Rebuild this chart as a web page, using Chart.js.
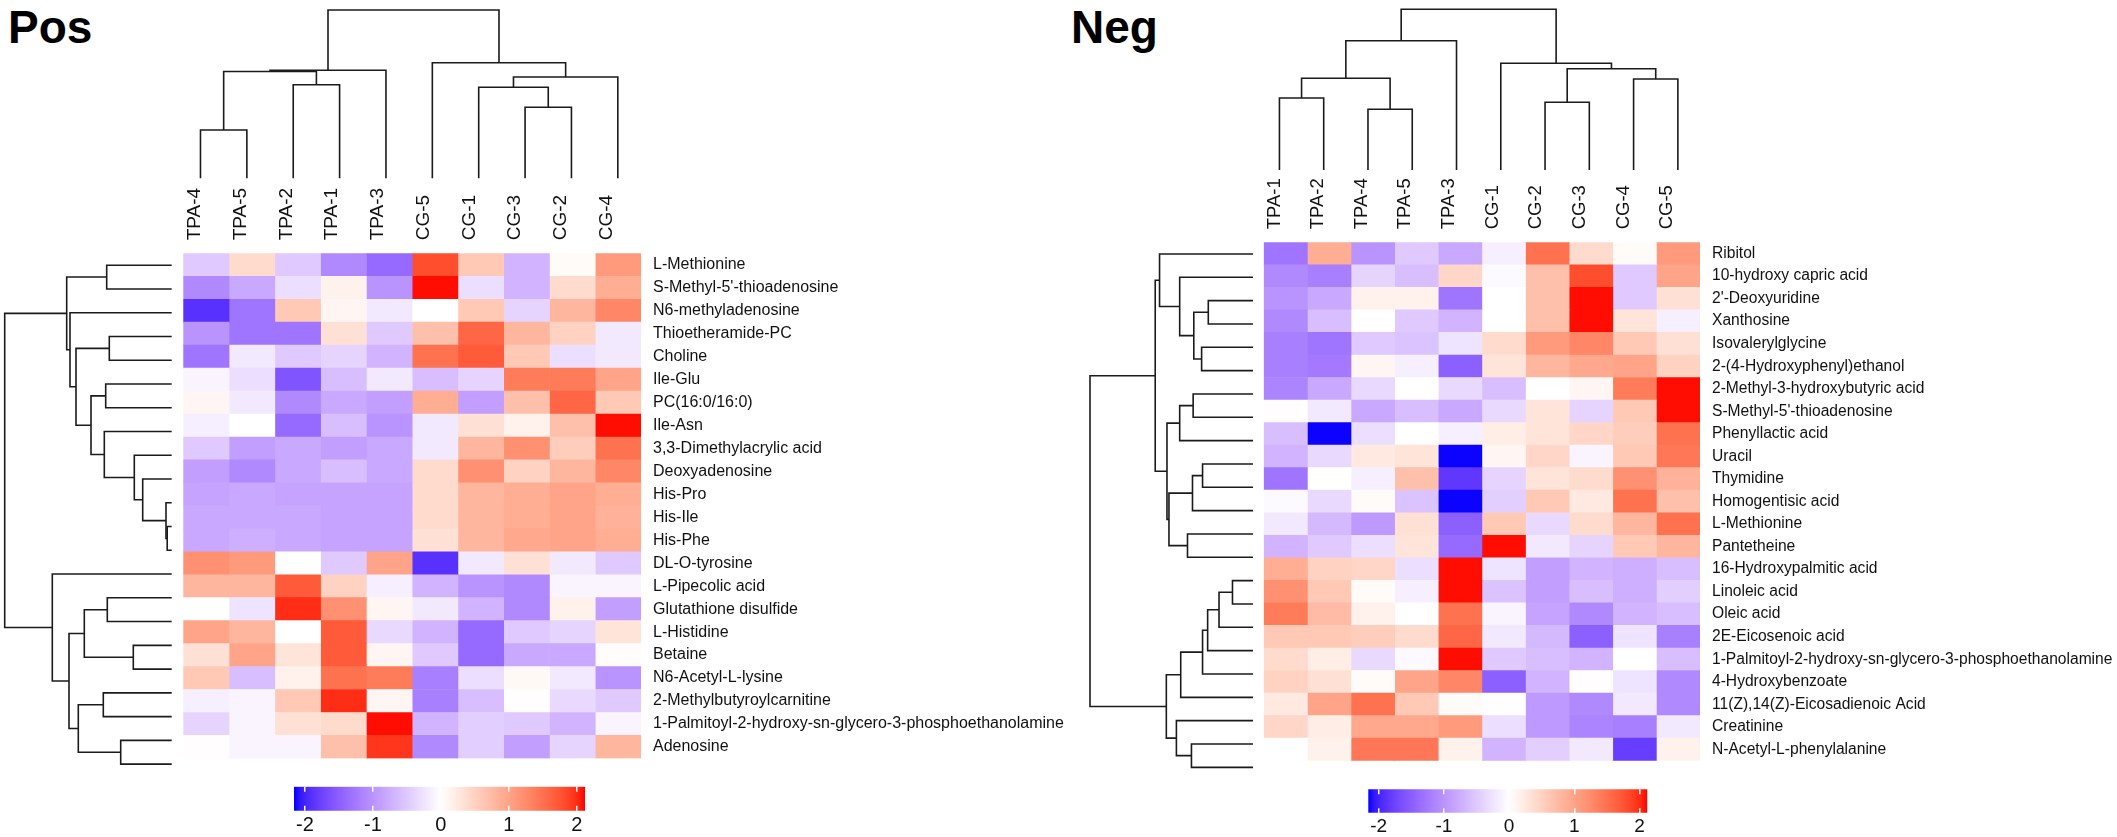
<!DOCTYPE html>
<html>
<head>
<meta charset="utf-8">
<script src="https://cdn.jsdelivr.net/npm/chart.js@4.4.1/dist/chart.umd.min.js"></script>
<style>
  html, body { margin: 0; padding: 0; background: #fff; }
  body { width: 2117px; height: 837px; position: relative; overflow: hidden; font-family: "Liberation Sans", Arial, sans-serif; }
  canvas { position: absolute; }
  .title { position: absolute; font-weight: bold; font-size: 46px; line-height: 1; color: #000; }
</style>
</head>
<body>
<div class="title" style="left:8px;top:4px">Pos</div>
<div class="title" style="left:1071px;top:4px">Neg</div>

<canvas id="posTop"></canvas>
<canvas id="posLeft"></canvas>
<canvas id="posHeat"></canvas>
<canvas id="posBar"></canvas>
<canvas id="negTop"></canvas>
<canvas id="negLeft"></canvas>
<canvas id="negHeat"></canvas>
<canvas id="negBar"></canvas>

<script>
// ---- data: Pos ----
const posCols = ['TPA-4', 'TPA-5', 'TPA-2', 'TPA-1', 'TPA-3', 'CG-5', 'CG-1', 'CG-3', 'CG-2', 'CG-4'];
const posRows = [
    'L-Methionine', "S-Methyl-5'-thioadenosine", 'N6-methyladenosine', 'Thioetheramide-PC', 'Choline',
    'Ile-Glu', 'PC(16:0/16:0)', 'Ile-Asn', '3,3-Dimethylacrylic acid', 'Deoxyadenosine',
    'His-Pro', 'His-Ile', 'His-Phe', 'DL-O-tyrosine', 'L-Pipecolic acid', 'Glutathione disulfide',
    'L-Histidine', 'Betaine', 'N6-Acetyl-L-lysine', '2-Methylbutyroylcarnitine',
    '1-Palmitoyl-2-hydroxy-sn-glycero-3-phosphoethanolamine', 'Adenosine'
];
const posValues = [
    [-0.5, 0.4, -0.5, -1.1, -1.4, 1.8, 0.6, -0.7, 0.05, 1.1],
    [-1.1, -0.8, -0.3, 0.15, -1.0, 2.1, -0.3, -0.7, 0.4, 0.9],
    [-1.9, -1.3, 0.6, 0.1, -0.2, 0.0, 0.6, -0.4, 0.8, 1.3],
    [-1.0, -1.3, -1.3, 0.35, -0.5, 0.7, 1.6, 0.8, 0.5, -0.2],
    [-1.3, -0.2, -0.5, -0.4, -0.7, 1.5, 1.7, 0.6, -0.3, -0.2],
    [-0.1, -0.3, -1.6, -0.6, -0.2, -0.6, -0.4, 1.4, 1.4, 1.0],
    [0.1, -0.2, -1.1, -0.8, -0.9, 0.9, -0.9, 0.7, 1.6, 0.6],
    [-0.15, 0.0, -1.4, -0.6, -1.0, -0.2, 0.35, 0.15, 0.7, 2.1],
    [-0.5, -0.9, -0.8, -0.9, -0.8, -0.2, 0.8, 1.2, 0.55, 1.5],
    [-0.9, -1.1, -0.8, -0.6, -0.8, 0.4, 1.2, 0.5, 0.8, 1.3],
    [-0.85, -0.8, -0.85, -0.85, -0.85, 0.4, 0.8, 0.9, 1.0, 0.9],
    [-0.8, -0.8, -0.8, -0.85, -0.85, 0.4, 0.8, 0.9, 1.0, 0.85],
    [-0.8, -0.75, -0.8, -0.85, -0.85, 0.35, 0.8, 0.95, 1.0, 0.9],
    [1.2, 1.1, 0.0, -0.5, 1.0, -1.9, -0.2, 0.35, -0.2, -0.5],
    [0.8, 0.8, 1.7, 0.5, -0.15, -0.7, -1.0, -1.1, -0.1, -0.1],
    [0.0, -0.25, 2.0, 1.2, 0.1, -0.2, -0.7, -1.1, 0.15, -0.9],
    [1.0, 0.8, 0.0, 1.7, -0.35, -0.7, -1.4, -0.5, -0.4, 0.3],
    [0.35, 1.0, 0.3, 1.7, 0.1, -0.5, -1.4, -0.8, -0.8, 0.03],
    [0.6, -0.6, 0.15, 1.5, 1.4, -1.2, -0.3, 0.07, -0.2, -1.0],
    [-0.15, -0.1, 0.6, 2.0, 0.1, -1.2, -0.6, 0.02, -0.35, -0.5],
    [-0.4, -0.1, 0.35, 0.4, 2.1, -0.7, -0.45, -0.5, -0.7, -0.1],
    [0.02, -0.1, -0.1, 0.7, 1.95, -1.1, -0.45, -0.9, -0.4, 0.8]
];
// merges: [a, b, height]; negative = leaf position (1-based), positive = earlier merge
const posColMerge = [
    [-1, -2, 48.3], [-3, -4, 93.6], [1, 2, 106.8], [3, -5, 108.0],
    [-8, -9, 71.0], [-7, 5, 91.0], [6, -10, 101.3], [-6, 7, 115.6], [4, 8, 168.3]
];
const posRowMerge = [
    [-1, -2, 65], [-4, -5, 62.4], [-6, -7, 66], [-12, -13, 4.5], [-11, 4, 5.7],
    [-10, 5, 29], [-9, 6, 37.4], [-8, 7, 67.4], [3, 8, 80.7], [2, 9, 95.7],
    [-3, 10, 101.7], [1, 11, 105], [-15, -16, 64.4], [-17, -18, 38.4], [13, 14, 87.4],
    [-19, -20, 68.4], [-21, -22, 51], [16, 17, 93.4], [15, 18, 102.7], [-14, 19, 119.4],
    [12, 20, 167]
];

// ---- data: Neg ----
const negCols = ['TPA-1', 'TPA-2', 'TPA-4', 'TPA-5', 'TPA-3', 'CG-1', 'CG-2', 'CG-3', 'CG-4', 'CG-5'];
const negRows = [
    'Ribitol', '10-hydroxy capric acid', "2'-Deoxyuridine", 'Xanthosine', 'Isovalerylglycine',
    '2-(4-Hydroxyphenyl)ethanol', '2-Methyl-3-hydroxybutyric acid', "S-Methyl-5'-thioadenosine",
    'Phenyllactic acid', 'Uracil', 'Thymidine', 'Homogentisic acid', 'L-Methionine', 'Pantetheine',
    '16-Hydroxypalmitic acid', 'Linoleic acid', 'Oleic acid', '2E-Eicosenoic acid',
    '1-Palmitoyl-2-hydroxy-sn-glycero-3-phosphoethanolamine', '4-Hydroxybenzoate',
    '11(Z),14(Z)-Eicosadienoic Acid', 'Creatinine', 'N-Acetyl-L-phenylalanine'
];
const negValues = [
    [-1.3, 0.9, -1.0, -0.5, -0.8, -0.15, 1.5, 0.4, 0.05, 1.1],
    [-1.1, -1.2, -0.4, -0.6, 0.45, -0.05, 0.7, 1.8, -0.5, 1.0],
    [-1.0, -0.8, 0.15, 0.15, -1.3, 0.0, 0.7, 2.1, -0.5, 0.35],
    [-1.1, -0.6, 0.0, -0.5, -0.7, 0.0, 0.7, 2.1, 0.3, -0.15],
    [-1.2, -1.3, -0.5, -0.55, -0.25, 0.4, 1.1, 1.3, 0.6, 0.35],
    [-1.2, -1.25, 0.1, -0.15, -1.5, 0.3, 0.8, 0.95, 1.0, 0.5],
    [-1.15, -0.8, -0.35, 0.0, -0.35, -0.6, 0.0, 0.1, 1.4, 2.1],
    [0.02, -0.2, -0.8, -0.6, -0.8, -0.35, 0.3, -0.4, 0.6, 2.1],
    [-0.6, -2.15, -0.3, 0.0, -0.15, 0.2, 0.3, 0.45, 0.55, 1.5],
    [-0.7, -0.35, 0.25, 0.3, -2.15, 0.1, 0.45, -0.1, 0.6, 1.45],
    [-1.3, 0.0, -0.15, 0.7, -1.85, -0.4, 0.3, 0.4, 1.2, 0.85],
    [-0.05, -0.35, 0.05, -0.55, -2.15, -0.45, 0.6, 0.25, 1.5, 0.7],
    [-0.2, -0.65, -0.95, 0.35, -1.5, 0.6, -0.35, 0.4, 0.8, 1.5],
    [-0.7, -0.5, -0.3, 0.3, -1.4, 2.1, -0.2, -0.4, 0.6, 0.8],
    [0.9, 0.5, 0.45, -0.3, 2.1, -0.25, -0.9, -0.7, -0.75, -0.6],
    [1.2, 0.6, 0.05, -0.15, 2.1, -0.55, -0.9, -0.6, -0.75, -0.45],
    [1.4, 0.75, 0.15, 0.0, 1.5, -0.1, -0.85, -1.1, -0.7, -0.6],
    [0.6, 0.6, 0.55, 0.4, 1.6, -0.2, -0.65, -1.5, -0.25, -1.2],
    [0.4, 0.2, -0.35, -0.05, 2.1, -0.5, -0.6, -0.7, 0.0, -0.6],
    [0.5, 0.35, 0.05, 1.0, 1.3, -1.5, -0.7, 0.02, -0.25, -1.1],
    [0.25, 1.0, 1.5, 0.6, 0.05, -0.02, -0.95, -1.1, -0.2, -1.1],
    [0.45, 0.2, 0.95, 0.95, 1.1, -0.3, -0.95, -1.15, -1.2, -0.2],
    [0.0, 0.15, 1.45, 1.45, 0.15, -0.7, -0.45, -0.2, -1.8, 0.15]
];
const negColMerge = [
    [-1, -2, 72], [-3, -4, 60.7], [1, 2, 91.7], [3, -5, 129.3],
    [-7, -8, 67.7], [-9, -10, 91], [5, 6, 101.3], [-6, 7, 106.7], [4, 8, 160.7]
];
const negRowMerge = [
    [-3, -4, 47.5], [-5, -6, 54.6], [1, 2, 62.9], [-2, 3, 77.9], [-1, 4, 99.3],
    [-7, -8, 63.6], [6, -9, 77.9], [-10, -11, 53.6], [8, -12, 64.3], [-13, -14, 69.6],
    [9, 10, 89.3], [7, 11, 91.4], [5, 12, 103.9], [-15, -16, 21.8], [14, -17, 36.1],
    [15, -18, 48.2], [16, -19, 53.6], [17, -20, 76.8], [-22, -23, 65.4], [-21, 19, 81.4],
    [18, 20, 92.1], [13, 21, 173.2]
];

// ---- colour key ----
const scaleMin = -2.16;
const scaleMax = 2.12;
const scaleTicks = [-2, -1, 0, 1, 2];
const lowColor = [0, 0, 255];
const midColor = [255, 255, 255];
const highColor = [255, 0, 0];

const FONT = '"Liberation Sans", Arial, sans-serif';
Chart.defaults.font.family = FONT;
Chart.defaults.color = '#111';

// colours are interpolated in Lab space (blue -> white -> red)
function toLin(c) { c /= 255; return c <= 0.04045 ? c / 12.92 : Math.pow((c + 0.055) / 1.055, 2.4); }
function fromLin(c) {
    const v = c <= 0.0031308 ? 12.92 * c : 1.055 * Math.pow(c, 1 / 2.4) - 0.055;
    return Math.round(Math.min(1, Math.max(0, v)) * 255);
}
function rgbToLab([r, g, b]) {
    const R = toLin(r), G = toLin(g), B = toLin(b);
    const X = (0.4124 * R + 0.3576 * G + 0.1805 * B) / 0.95047;
    const Y = 0.2126 * R + 0.7152 * G + 0.0722 * B;
    const Z = (0.0193 * R + 0.1192 * G + 0.9505 * B) / 1.08883;
    const f = t => t > 0.008856 ? Math.cbrt(t) : 7.787 * t + 16 / 116;
    const fx = f(X), fy = f(Y), fz = f(Z);
    return [116 * fy - 16, 500 * (fx - fy), 200 * (fy - fz)];
}
function labToRgb([L, a, b]) {
    const fy = (L + 16) / 116, fx = fy + a / 500, fz = fy - b / 200;
    const inv = t => t * t * t > 0.008856 ? t * t * t : (t - 16 / 116) / 7.787;
    const X = inv(fx) * 0.95047, Y = inv(fy), Z = inv(fz) * 1.08883;
    const R = 3.2406 * X - 1.5372 * Y - 0.4986 * Z;
    const G = -0.9689 * X + 1.8758 * Y + 0.0415 * Z;
    const B = 0.0557 * X - 0.2040 * Y + 1.0570 * Z;
    return [fromLin(R), fromLin(G), fromLin(B)];
}
const labLow = rgbToLab(lowColor), labMid = rgbToLab(midColor), labHigh = rgbToLab(highColor);

function cellColor(v) {
    let to, t;
    if (v < 0) { to = labLow; t = Math.min(1, v / scaleMin); }
    else { to = labHigh; t = Math.min(1, v / scaleMax); }
    const lab = labMid.map((c, i) => c + (to[i] - c) * t);
    const [r, g, b] = labToRgb(lab);
    return `rgb(${r},${g},${b})`;
}

function place(id, x, y, w, h) {
    const c = document.getElementById(id);
    c.width = Math.round(w);
    c.height = Math.round(h);
    c.style.left = x + 'px';
    c.style.top = y + 'px';
    return c;
}

function createHeatmap(id, box, area, cols, rows, values, colFont, rowFont) {
    const canvas = place(id, box.x, box.y, box.w, box.h);
    const datasets = cols.map((col, j) => ({
        label: col,
        data: rows.map(() => 1),
        backgroundColor: rows.map((r, i) => cellColor(values[i][j])),
        borderWidth: 0,
        barPercentage: 1,
        categoryPercentage: 1,
        stack: 'cells'
    }));
    new Chart(canvas, {
        type: 'bar',
        data: { labels: rows, datasets: datasets },
        options: {
            indexAxis: 'y',
            responsive: false,
            animation: false,
            layout: { padding: { left: area.l - box.x, top: 0, right: 0, bottom: box.y + box.h - area.b } },
            plugins: { legend: { display: false }, tooltip: { enabled: false } },
            scales: {
                x: {
                    type: 'linear',
                    position: 'top',
                    stacked: true,
                    min: 0,
                    max: cols.length,
                    grid: { display: false, drawTicks: false },
                    border: { display: false },
                    afterBuildTicks: s => { s.ticks = cols.map((c, i) => ({ value: i + 0.5 })); },
                    afterFit: s => { s.height = area.t - box.y; },
                    ticks: {
                        autoSkip: false,
                        minRotation: 90,
                        maxRotation: 90,
                        padding: 13,
                        // rotated labels sit half a line left of the tick; pull them back to centre
                        labelOffset: colFont * 0.6,
                        color: '#111',
                        font: { size: colFont },
                        callback: (v, i) => cols[i]
                    }
                },
                y: {
                    type: 'category',
                    position: 'right',
                    stacked: true,
                    grid: { display: false, drawTicks: false },
                    border: { display: false },
                    afterFit: s => { s.width = box.x + box.w - area.r; },
                    ticks: { autoSkip: false, padding: 12, color: '#111', font: { size: rowFont } }
                }
            }
        }
    });
}

function dendroLines(merge) {
    const pos = [], ht = [];
    const p = k => k < 0 ? -k - 0.5 : pos[k - 1];
    const hh = k => k < 0 ? 0 : ht[k - 1];
    const lines = [];
    merge.forEach(([a, b, h]) => {
        lines.push([[p(a), hh(a)], [p(a), h], [p(b), h], [p(b), hh(b)]]);
        pos.push((p(a) + p(b)) / 2);
        ht.push(h);
    });
    return lines;
}

function createDendro(id, box, area, merge, nLeaves, vertical) {
    const canvas = place(id, box.x, box.y, box.w, box.h);
    const top = Math.max(...merge.map(m => m[2]));
    const datasets = dendroLines(merge).map(line => ({
        data: line.map(([p, h]) => vertical ? { x: p, y: h } : { x: h, y: p }),
        showLine: true,
        borderColor: '#1b1b1b',
        borderWidth: 1.6,
        pointRadius: 0,
        tension: 0,
        clip: false
    }));
    const leafAxis = { type: 'linear', display: false, min: 0, max: nLeaves, reverse: !vertical };
    const hAxis = { type: 'linear', display: false, min: 0, max: top, reverse: !vertical };
    new Chart(canvas, {
        type: 'scatter',
        data: { datasets: datasets },
        options: {
            responsive: false,
            animation: false,
            layout: { padding: { left: area.l - box.x, top: area.t - box.y, right: box.x + box.w - area.r, bottom: box.y + box.h - area.b } },
            plugins: { legend: { display: false }, tooltip: { enabled: false } },
            scales: vertical ? { x: leafAxis, y: hAxis } : { x: hAxis, y: leafAxis }
        }
    });
}

function createColorbar(id, box, area, fontSize) {
    const canvas = place(id, box.x, box.y, box.w, box.h);
    new Chart(canvas, {
        type: 'bar',
        data: {
            labels: ['key'],
            datasets: [{
                data: [[scaleMin, scaleMax]],
                borderWidth: 0,
                barPercentage: 1,
                categoryPercentage: 1,
                backgroundColor: ctx => {
                    const chart = ctx.chart;
                    const ca = chart.chartArea;
                    if (!ca) return 'transparent';
                    const xs = chart.scales.x;
                    const g = chart.ctx.createLinearGradient(ca.left, 0, ca.right, 0);
                    const n = 48;
                    for (let i = 0; i <= n; i++) {
                        const v = scaleMin + (scaleMax - scaleMin) * i / n;
                        const px = xs.getPixelForValue(v);
                        g.addColorStop(Math.min(1, Math.max(0, (px - ca.left) / (ca.right - ca.left))), cellColor(v));
                    }
                    return g;
                }
            }]
        },
        options: {
            indexAxis: 'y',
            responsive: false,
            animation: false,
            layout: { padding: { left: area.l - box.x, right: box.x + box.w - area.r, top: area.t - box.y, bottom: 0 } },
            plugins: { legend: { display: false }, tooltip: { enabled: false } },
            scales: {
                x: {
                    type: 'linear',
                    position: 'bottom',
                    min: scaleMin,
                    max: scaleMax,
                    afterBuildTicks: s => { s.ticks = scaleTicks.map(v => ({ value: v })); },
                    afterFit: s => { s.height = box.y + box.h - area.b; },
                    grid: { color: 'rgba(255,255,255,0.95)', lineWidth: 1.5, drawTicks: false, z: 1 },
                    border: { display: false, dash: [5, 14] },
                    ticks: { padding: 3, color: '#111', font: { size: fontSize } }
                },
                y: { display: false }
            }
        }
    });
}

// Pos panel
createDendro('posTop', { x: 170, y: 3, w: 478, h: 180 }, { l: 177.3, t: 10, r: 641, b: 178.3 }, posColMerge, posCols.length, true);
createDendro('posLeft', { x: 0, y: 246, w: 176, h: 535 }, { l: 4.7, t: 253.3, r: 171.7, b: 776 }, posRowMerge, posRows.length, false);
createHeatmap('posHeat', { x: 170, y: 135, w: 910, h: 645 }, { l: 177.3, t: 253.3, r: 641, b: 776 }, posCols, posRows, posValues, 19, 16);
createColorbar('posBar', { x: 280, y: 780, w: 320, h: 57 }, { l: 294, t: 786.7, r: 585, b: 810.7 }, 20);

// Neg panel
createDendro('negTop', { x: 1250, y: 2, w: 457, h: 172 }, { l: 1257.3, t: 9.3, r: 1700, b: 170 }, negColMerge, negCols.length, true);
createDendro('negLeft', { x: 1083, y: 235, w: 175, h: 549 }, { l: 1090, t: 242.3, r: 1253, b: 779 }, negRowMerge, negRows.length, false);
createHeatmap('negHeat', { x: 1250, y: 125, w: 867, h: 657 }, { l: 1257.3, t: 242.3, r: 1700, b: 779 }, negCols, negRows, negValues, 18.5, 15.6);
createColorbar('negBar', { x: 1355, y: 782, w: 306, h: 55 }, { l: 1368.3, t: 789.3, r: 1647.3, b: 812.7 }, 19);
</script>
</body>
</html>
